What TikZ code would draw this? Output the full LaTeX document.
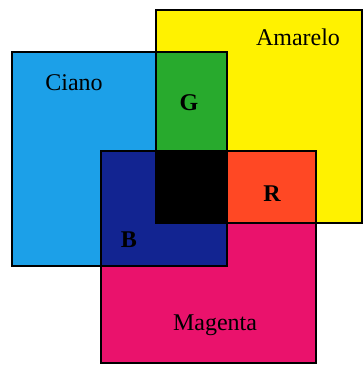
\documentclass[tikz,border=0pt]{standalone}
\usepackage{fontspec}
\setmainfont{Liberation Serif}
\definecolor{ciano}{RGB}{28,160,232}
\definecolor{amarelo}{RGB}{255,242,0}
\definecolor{magenta}{RGB}{234,18,108}
\definecolor{verde}{RGB}{40,170,45}
\definecolor{vermelho}{RGB}{255,72,36}
\definecolor{azul}{RGB}{18,36,145}
\begin{document}
\begin{tikzpicture}[x=1pt,y=-1pt,
  box/.style={draw=black,line width=1.5pt},
  nome/.style={font=\fontsize{24}{24}\selectfont,anchor=base},
  letra/.style={font=\fontsize{24}{24}\selectfont\bfseries,anchor=base}]
  \useasboundingbox (0,0) rectangle (362,366);
  % cores de base
  \fill[amarelo] (156,10) rectangle (362,223);
  \fill[ciano] (12,52) rectangle (227,266);
  \fill[magenta] (101,151) rectangle (316,363);
  % misturas
  \fill[verde] (156,52) rectangle (227,151);
  \fill[vermelho] (227,151) rectangle (316,223);
  \fill[azul] (101,151) rectangle (227,266);
  \fill[black] (156,151) rectangle (227,223);
  % contornos
  \draw[box] (156,10) rectangle (362,223);
  \draw[box] (12,52) rectangle (227,266);
  \draw[box] (101,151) rectangle (316,363);
  % textos
  \node[nome] (am) at (298,46) {Amarelo};
  \node[nome] (ci) at (74,91) {Ciano};
  \node[nome] (ma) at (215,330) {Magenta};
  \node[letra] (g) at (189,111) {G};
  \node[letra] (r) at (272,201) {R};
  \node[letra] (b) at (129,247) {B};
\end{tikzpicture}
\end{document}
